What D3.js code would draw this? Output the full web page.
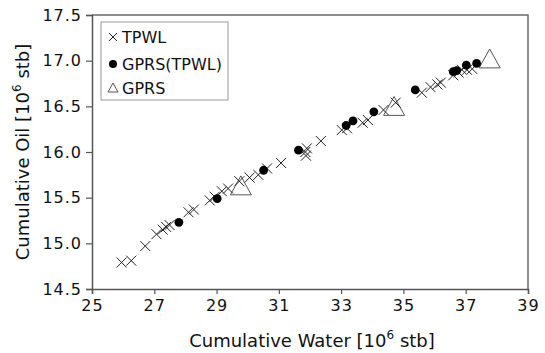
<!DOCTYPE html>
<html>
<head>
<meta charset="utf-8">
<script src="https://cdn.jsdelivr.net/npm/d3@7"></script>
<style>
  html, body { margin: 0; padding: 0; background: #fff; }
  svg { display: block; font-family: "DejaVu Sans", sans-serif; }
</style>
</head>
<body>
<svg id="chart" width="545" height="353"></svg>
<script>
// ---- data ----
const tpwlWater = [25.95, 26.26, 26.71, 27.07, 27.27, 27.38, 27.49, 28.10, 28.27, 28.78, 28.94, 29.17, 29.37, 29.73, 30.06, 30.34, 30.62, 31.07, 31.85, 31.90, 31.87, 32.35, 33.02, 33.19, 33.69, 33.86, 34.36, 34.75, 35.59, 35.87, 36.09, 36.20, 36.60, 36.77, 36.88, 37.04, 37.21];
const tpwlOil   = [14.79, 14.81, 14.97, 15.10, 15.15, 15.18, 15.20, 15.34, 15.37, 15.47, 15.51, 15.57, 15.60, 15.68, 15.72, 15.75, 15.82, 15.88, 16.00, 16.04, 15.96, 16.12, 16.24, 16.26, 16.32, 16.35, 16.46, 16.54, 16.65, 16.71, 16.74, 16.76, 16.84, 16.87, 16.90, 16.90, 16.91];
const gprsTpwlWater = [27.79, 29.02, 30.51, 31.63, 33.16, 33.38, 34.05, 35.38, 36.60, 36.71, 37.02, 37.35];
const gprsTpwlOil   = [15.23, 15.49, 15.80, 16.02, 16.29, 16.34, 16.44, 16.68, 16.88, 16.89, 16.95, 16.97];
const gprsWater = [29.78, 34.70, 37.77];
const gprsOil   = [15.60, 16.47, 16.99];
const xTicks = [25, 27, 29, 31, 33, 35, 37, 39];
const yTicks = [14.5, 15.0, 15.5, 16.0, 16.5, 17.0, 17.5];
const legendLabels = ["TPWL", "GPRS(TPWL)", "GPRS"];

// ---- layout ----
const svg = d3.select("#chart");
const pL = 92, pR = 528, pT = 15, pB = 289;
const x = d3.scaleLinear().domain([25, 39]).range([pL, pR]);
const y = d3.scaleLinear().domain([14.5, 17.5]).range([pB, pT]);

// frame (top/right)
svg.append("path")
  .attr("d", `M${pL},${pT}H${pR}V${pB}`)
  .attr("fill", "none").attr("stroke", "#6a6a6a").attr("stroke-width", 1.5);

// axes
const xAxis = svg.append("g").attr("transform", `translate(0,${pB})`)
  .call(d3.axisBottom(x).tickValues(xTicks).tickFormat(d3.format("d")).tickSize(5).tickPadding(6));
const yAxis = svg.append("g").attr("transform", `translate(${pL},0)`)
  .call(d3.axisLeft(y).tickValues(yTicks).tickFormat(d3.format(".1f")).tickSize(6).tickPadding(4));
[xAxis, yAxis].forEach(g => {
  g.selectAll("path.domain").attr("stroke", "#555").attr("stroke-width", 1.5);
  g.selectAll(".tick line").attr("stroke", "#555").attr("stroke-width", 1.2);
  g.selectAll(".tick text").attr("fill", "#111").style("font-size", "16px")
    .style("font-family", "DejaVu Sans, sans-serif").style("letter-spacing", "1px");
});

// axis titles
const xt = svg.append("text").attr("x", (pL + pR) / 2 + 2).attr("y", 347)
  .attr("text-anchor", "middle").style("font-size", "18px").attr("fill", "#111");
xt.append("tspan").text("Cumulative Water [10");
xt.append("tspan").attr("dy", -8).style("font-size", "12px").text("6");
xt.append("tspan").attr("dy", 8).text(" stb]");

const yt = svg.append("text")
  .attr("transform", `translate(29,${(pT + pB) / 2}) rotate(-90)`)
  .attr("text-anchor", "middle").style("font-size", "18px").attr("fill", "#111");
yt.append("tspan").text("Cumulative Oil [10");
yt.append("tspan").attr("dy", -8).style("font-size", "12px").text("6");
yt.append("tspan").attr("dy", 8).text(" stb]");

// ---- markers ----
function cross(g, cx, cy, r, sw) {
  g.append("path").attr("d", `M${cx - r},${cy - r}L${cx + r},${cy + r}M${cx - r},${cy + r}L${cx + r},${cy - r}`)
    .attr("stroke", "#222").attr("stroke-width", sw).attr("fill", "none");
}
function tri(g, cx, cy, w, sw) {
  const h = w * 0.9;
  g.append("path").attr("d", `M${cx},${cy - h * 2 / 3}L${cx + w / 2},${cy + h / 3}L${cx - w / 2},${cy + h / 3}Z`)
    .attr("stroke", "#555").attr("stroke-width", sw).attr("fill", "none");
}

const plot = svg.append("g");
const gTri = plot.append("g");
gprsWater.forEach((w, i) => tri(gTri, x(w), y(gprsOil[i]), 21, 1));
const gX = plot.append("g");
tpwlWater.forEach((w, i) => cross(gX, x(w), y(tpwlOil[i]), 5, 1));
const gDot = plot.append("g");
gprsTpwlWater.forEach((w, i) => gDot.append("circle")
  .attr("cx", x(w)).attr("cy", y(gprsTpwlOil[i])).attr("r", 4.4).attr("fill", "#000"));

// ---- legend ----
const lg = svg.append("g");
lg.append("rect").attr("x", 101).attr("y", 22).attr("width", 127).attr("height", 78)
  .attr("fill", "#fff").attr("stroke", "#999").attr("stroke-width", 1);
const ly = [37, 64, 88];
cross(lg, 113, ly[0], 4, 1);
lg.append("circle").attr("cx", 113).attr("cy", ly[1]).attr("r", 4).attr("fill", "#000");
tri(lg, 113, ly[2] + 1, 10, 1);
legendLabels.forEach((t, i) => lg.append("text").attr("x", 122).attr("y", ly[i]).attr("dy", "0.36em")
  .style("font-size", "16px").attr("fill", "#111").text(t));
</script>
</body>
</html>
